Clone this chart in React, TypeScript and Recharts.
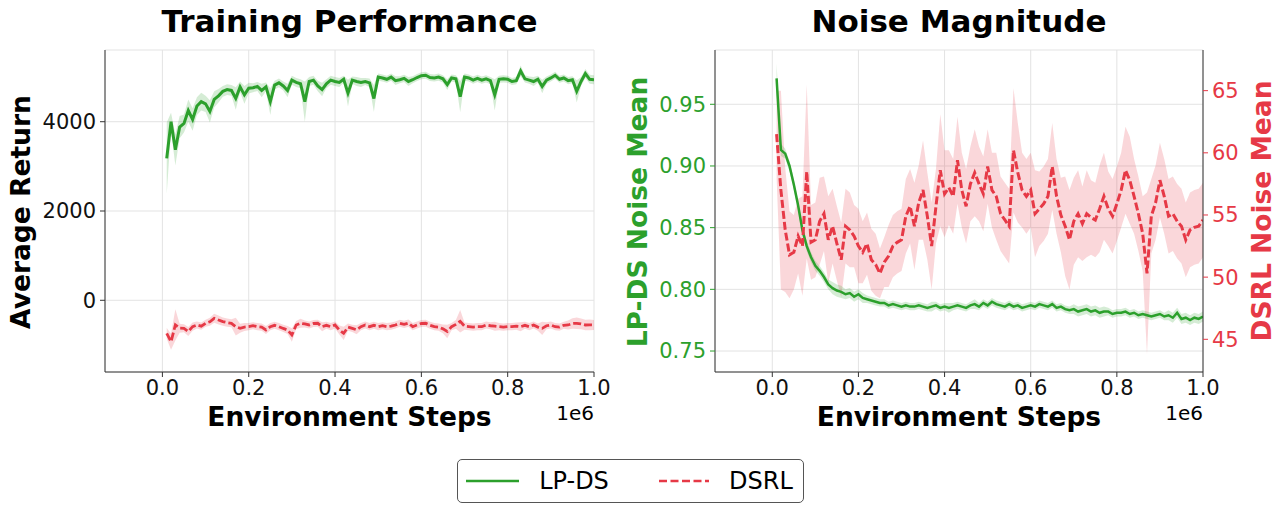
import React from 'react';
import { ComposedChart, Line, Area, XAxis, YAxis, CartesianGrid } from 'recharts';

const FONT = '"DejaVu Sans", "Liberation Sans", sans-serif';
const GREEN = '#2ca02c';
const RED = '#e63946';

const steps = [
  10000, 20000, 30000, 40000, 50000, 60000, 70000, 80000, 90000, 100000,
  110000, 120000, 130000, 140000, 150000, 160000, 170000, 180000, 190000, 200000,
  210000, 220000, 230000, 240000, 250000, 260000, 270000, 280000, 290000, 300000,
  310000, 320000, 330000, 340000, 350000, 360000, 370000, 380000, 390000, 400000,
  410000, 420000, 430000, 440000, 450000, 460000, 470000, 480000, 490000, 500000,
  510000, 520000, 530000, 540000, 550000, 560000, 570000, 580000, 590000, 600000,
  610000, 620000, 630000, 640000, 650000, 660000, 670000, 680000, 690000, 700000,
  710000, 720000, 730000, 740000, 750000, 760000, 770000, 780000, 790000, 800000,
  810000, 820000, 830000, 840000, 850000, 860000, 870000, 880000, 890000, 900000,
  910000, 920000, 930000, 940000, 950000, 960000, 970000, 980000, 990000, 1000000,
];

// Training Performance: LP-DS average return (mean, band half-width)
const lpdsReturn = [
  3180, 4000, 3370, 3880, 3960, 4250, 4050, 4350, 4450, 4400,
  4230, 4500, 4580, 4680, 4720, 4700, 4520, 4780, 4600, 4750,
  4760, 4790, 4700, 4780, 4450, 4820, 4870, 4800, 4700, 4930,
  4880, 4850, 4450, 4900, 4930, 4800, 4720, 4850, 4930, 4900,
  4880, 4950, 4640, 4930, 4900, 4880, 4900, 4870, 4520, 5000,
  4980, 4950, 5000, 4920, 4940, 4970, 4900, 4940, 4990, 5030,
  5040, 4990, 4980, 5000, 4960, 4830, 4980, 4960, 4560, 5000,
  4980, 4930, 4970, 4930, 4960, 4920, 4600, 4950, 4960, 4950,
  4900, 4920, 5140, 4960, 4930, 4900, 4950, 4790, 4930, 4980,
  5040, 4950, 4980, 4920, 4940, 4680, 4900, 5080, 4950, 4940,
];
const lpdsReturnStd = [
  800, 200, 350, 250, 200, 250, 250, 200, 200, 180,
  250, 180, 150, 120, 120, 120, 250, 120, 200, 120,
  100, 100, 150, 100, 300, 100, 100, 100, 150, 100,
  100, 100, 450, 100, 100, 120, 150, 100, 100, 100,
  100, 80, 300, 80, 100, 100, 80, 100, 300, 80,
  80, 80, 80, 100, 80, 80, 100, 80, 80, 80,
  80, 80, 80, 80, 80, 120, 80, 80, 350, 80,
  80, 80, 80, 80, 80, 80, 350, 80, 80, 80,
  80, 80, 120, 80, 80, 100, 80, 150, 80, 80,
  80, 80, 80, 80, 80, 250, 100, 100, 100, 100,
];
// Training Performance: DSRL average return
const dsrlReturn = [
  -740, -930, -550, -625, -628, -700, -590, -553, -580, -515,
  -480, -404, -440, -478, -500, -515, -591, -628, -600, -591,
  -570, -591, -600, -665, -591, -560, -591, -630, -665, -777,
  -553, -515, -530, -553, -520, -515, -591, -560, -591, -553,
  -665, -740, -600, -628, -660, -591, -553, -591, -560, -591,
  -570, -591, -580, -553, -515, -540, -510, -591, -553, -520,
  -515, -560, -591, -600, -640, -700, -591, -540, -470, -580,
  -591, -600, -591, -591, -553, -570, -580, -591, -600, -591,
  -591, -580, -591, -560, -591, -553, -600, -628, -570, -553,
  -591, -600, -560, -553, -520, -515, -530, -553, -550, -553,
];
const dsrlReturnStd = [
  120, 180, 350, 100, 90, 100, 90, 80, 80, 80,
  90, 100, 100, 90, 90, 90, 200, 100, 90, 80,
  80, 80, 80, 90, 80, 80, 80, 80, 90, 150,
  90, 100, 80, 80, 80, 80, 100, 80, 80, 80,
  100, 150, 80, 80, 100, 80, 80, 80, 80, 80,
  80, 80, 80, 80, 80, 80, 80, 80, 80, 80,
  80, 80, 80, 80, 100, 150, 80, 100, 250, 80,
  80, 80, 80, 80, 80, 80, 100, 80, 80, 80,
  80, 80, 100, 80, 80, 80, 80, 150, 80, 80,
  80, 80, 80, 100, 120, 130, 120, 120, 120, 110,
];

// Noise Magnitude: LP-DS noise mean (left axis)
const lpdsNoise = [
  0.971, 0.913, 0.910, 0.900, 0.885, 0.868, 0.848, 0.835, 0.826, 0.819,
  0.815, 0.810, 0.804, 0.801, 0.799, 0.798, 0.796, 0.797, 0.794, 0.796,
  0.793, 0.792, 0.791, 0.790, 0.789, 0.789, 0.787, 0.788, 0.787, 0.786,
  0.787, 0.786, 0.786, 0.787, 0.786, 0.785, 0.786, 0.787, 0.785, 0.786,
  0.785, 0.786, 0.787, 0.786, 0.785, 0.787, 0.788, 0.786, 0.789, 0.787,
  0.790, 0.788, 0.787, 0.786, 0.788, 0.786, 0.787, 0.785, 0.786, 0.787,
  0.786, 0.788, 0.787, 0.786, 0.788, 0.785, 0.786, 0.784, 0.783, 0.784,
  0.782, 0.783, 0.784, 0.782, 0.783, 0.781, 0.782, 0.782, 0.780, 0.781,
  0.781, 0.782, 0.780, 0.781, 0.779, 0.780, 0.779, 0.778, 0.779, 0.780,
  0.778, 0.779, 0.777, 0.781, 0.776, 0.777, 0.775, 0.777, 0.776, 0.778,
];
const lpdsNoiseStd = [
  0.012, 0.005, 0.004, 0.004, 0.004, 0.004, 0.004, 0.004, 0.004, 0.004,
  0.004, 0.004, 0.004, 0.005, 0.005, 0.005, 0.004, 0.004, 0.004, 0.004,
  0.004, 0.003, 0.003, 0.003, 0.003, 0.003, 0.003, 0.003, 0.003, 0.003,
  0.003, 0.003, 0.003, 0.003, 0.003, 0.003, 0.004, 0.003, 0.003, 0.003,
  0.004, 0.003, 0.003, 0.003, 0.003, 0.003, 0.004, 0.003, 0.003, 0.003,
  0.003, 0.003, 0.003, 0.003, 0.003, 0.003, 0.003, 0.003, 0.003, 0.003,
  0.003, 0.003, 0.003, 0.003, 0.003, 0.003, 0.003, 0.003, 0.003, 0.004,
  0.004, 0.004, 0.004, 0.004, 0.004, 0.004, 0.004, 0.003, 0.003, 0.003,
  0.003, 0.003, 0.003, 0.003, 0.003, 0.003, 0.003, 0.003, 0.003, 0.003,
  0.003, 0.004, 0.004, 0.004, 0.004, 0.004, 0.004, 0.004, 0.004, 0.004,
];
// Noise Magnitude: DSRL noise mean (right axis)
const dsrlNoise = [
  61.5, 57.0, 53.8, 51.8, 52.0, 53.3, 52.5, 58.5, 52.8, 53.0,
  54.5, 55.1, 53.0, 54.1, 52.7, 51.4, 54.1, 53.8, 53.3, 52.5,
  52.0, 52.7, 51.4, 51.0, 50.3, 51.2, 51.7, 52.5, 52.8, 53.0,
  54.9, 55.7, 54.1, 56.0, 57.0, 54.9, 52.5, 55.7, 58.6, 56.7,
  57.2, 56.5, 59.4, 57.0, 55.7, 57.5, 58.4, 57.5, 56.7, 58.9,
  57.0, 56.5, 55.1, 54.6, 54.1, 60.2, 58.4, 57.0, 56.5, 57.0,
  55.1, 55.5, 55.9, 56.5, 58.9, 56.5, 55.0, 54.1, 53.0, 54.5,
  55.1, 54.3, 55.1, 54.8, 54.6, 55.5, 56.5, 55.5, 54.9, 55.9,
  57.0, 58.6, 57.8, 56.5, 55.1, 53.5, 50.3, 54.9, 56.0, 57.8,
  56.5, 54.9, 55.1, 54.5, 54.1, 53.0, 53.8, 54.0, 54.1, 54.6,
];
const dsrlNoiseStd = [
  3.5, 8.0, 5.0, 3.5, 3.0, 3.0, 4.0, 7.0, 3.0, 3.0,
  3.5, 3.0, 3.5, 3.0, 3.0, 3.0, 3.0, 3.0, 2.5, 3.0,
  2.5, 2.5, 2.5, 2.5, 2.0, 2.0, 2.5, 2.5, 2.5, 2.5,
  3.0, 3.0, 3.5, 3.0, 4.0, 3.5, 3.5, 3.0, 4.5, 3.5,
  3.0, 3.0, 3.5, 3.0, 3.0, 3.0, 3.5, 3.0, 3.0, 3.0,
  3.0, 3.5, 3.0, 3.0, 3.0, 5.0, 4.0, 3.0, 3.0, 3.0,
  3.5, 3.0, 3.0, 3.0, 3.5, 3.0, 3.0, 4.0, 4.0, 3.5,
  3.5, 3.0, 3.5, 3.0, 3.0, 3.5, 3.5, 3.0, 3.0, 3.0,
  3.0, 3.5, 3.5, 3.0, 3.0, 3.0, 6.5, 3.0, 3.0, 3.0,
  3.0, 3.0, 3.0, 3.0, 3.0, 3.0, 3.0, 3.0, 3.0, 3.0,
];

const xTicks = [0, 200000, 400000, 600000, 800000, 1000000];
const returnTicks = [0, 2000, 4000];
const lpdsNoiseTicks = [0.75, 0.8, 0.85, 0.9, 0.95];
const dsrlNoiseTicks = [45, 50, 55, 60, 65];
const xDomain: [number, number] = [-133000, 1000000];

const leftRows = steps.map((s, i) => ({
  x: s,
  g: lpdsReturn[i],
  gBand: [lpdsReturn[i] - lpdsReturnStd[i], lpdsReturn[i] + lpdsReturnStd[i]],
  r: dsrlReturn[i],
  rBand: [dsrlReturn[i] - dsrlReturnStd[i], dsrlReturn[i] + dsrlReturnStd[i]],
}));
const rightRows = steps.map((s, i) => ({
  x: s,
  g: lpdsNoise[i],
  gBand: [lpdsNoise[i] - lpdsNoiseStd[i], lpdsNoise[i] + lpdsNoiseStd[i]],
  r: dsrlNoise[i],
  rBand: [dsrlNoise[i] - dsrlNoiseStd[i], dsrlNoise[i] + dsrlNoiseStd[i]],
}));

const tickStyle = { fontSize: 21, fill: '#111', fontFamily: FONT };
const AX = '#333';

function Txt(props: { x: number; y: number; size: number; bold?: boolean; color?: string; rotate?: number; children: React.ReactNode; anchor?: 'center' | 'right' }) {
  const { x, y, size, bold, color, rotate, children, anchor } = props;
  const tx = anchor === 'right' ? '-100%' : '-50%';
  return (
    <div
      style={{
        position: 'absolute',
        left: x,
        top: y,
        transform: `translate(${tx}, -50%)${rotate ? ` rotate(${rotate}deg)` : ''}`,
        fontFamily: FONT,
        fontSize: size,
        fontWeight: bold ? 'bold' : 'normal',
        color: color || '#000',
        whiteSpace: 'nowrap',
        lineHeight: 1,
      }}
    >
      {children}
    </div>
  );
}

function LeftChart() {
  return (
    <ComposedChart width={640} height={512} data={leftRows} margin={{ top: 50, right: 46, bottom: 100, left: 0 }}>
      <CartesianGrid stroke="#e3e3e3" strokeWidth={1} />
      <XAxis dataKey="x" type="number" domain={xDomain} ticks={xTicks} allowDataOverflow
        tickFormatter={(v: number) => (v / 1e6).toFixed(1)} height={40} tick={tickStyle}
        stroke={AX} tickSize={5} tickMargin={3} />
      <XAxis xAxisId="top" orientation="top" dataKey="x" type="number" domain={xDomain} allowDataOverflow
        tick={false} tickLine={false} height={0} stroke={AX} />
      <YAxis type="number" domain={[-1606, 5606]} ticks={returnTicks} allowDataOverflow width={105}
        tick={tickStyle} stroke={AX} tickSize={5} tickMargin={4} />
      <YAxis yAxisId="edge" orientation="right" type="number" domain={[-1606, 5606]} allowDataOverflow
        tick={false} tickLine={false} width={0} stroke={AX} />
      <Area dataKey="gBand" stroke="none" fill={GREEN} fillOpacity={0.2} isAnimationActive={false} dot={false} activeDot={false} />
      <Area dataKey="rBand" stroke="none" fill={RED} fillOpacity={0.2} isAnimationActive={false} dot={false} activeDot={false} />
      <Line dataKey="g" stroke={GREEN} strokeWidth={3} dot={false} isAnimationActive={false} />
      <Line dataKey="r" stroke={RED} strokeWidth={2.8} strokeDasharray="8 3" dot={false} isAnimationActive={false} />
    </ComposedChart>
  );
}

function RightChart() {
  return (
    <ComposedChart width={640} height={512} data={rightRows} margin={{ top: 50, right: 0, bottom: 100, left: 0 }}>
      <CartesianGrid stroke="#e3e3e3" strokeWidth={1} yAxisId="l" />
      <XAxis dataKey="x" type="number" domain={xDomain} ticks={xTicks} allowDataOverflow
        tickFormatter={(v: number) => (v / 1e6).toFixed(1)} height={40} tick={tickStyle}
        stroke={AX} tickSize={5} tickMargin={3} />
      <XAxis xAxisId="top" orientation="top" dataKey="x" type="number" domain={xDomain} allowDataOverflow
        tick={false} tickLine={false} height={0} stroke={AX} />
      <YAxis yAxisId="l" type="number" domain={[0.733, 0.994]} ticks={lpdsNoiseTicks} allowDataOverflow width={75}
        tickFormatter={(v: number) => v.toFixed(2)}
        tick={{ ...tickStyle, fill: GREEN }} stroke={AX} tickLine={{ stroke: GREEN }} tickSize={5} tickMargin={4} />
      <YAxis yAxisId="r" orientation="right" type="number" domain={[42.37, 68.27]} ticks={dsrlNoiseTicks} allowDataOverflow width={77}
        tick={{ ...tickStyle, fill: RED }} stroke={AX} tickLine={{ stroke: RED }} tickSize={5} tickMargin={4} />
      <Area yAxisId="r" dataKey="rBand" stroke="none" fill={RED} fillOpacity={0.2} isAnimationActive={false} dot={false} activeDot={false} />
      <Area yAxisId="l" dataKey="gBand" stroke="none" fill={GREEN} fillOpacity={0.2} isAnimationActive={false} dot={false} activeDot={false} />
      <Line yAxisId="l" dataKey="g" stroke={GREEN} strokeWidth={2.5} dot={false} isAnimationActive={false} />
      <Line yAxisId="r" dataKey="r" stroke={RED} strokeWidth={3} strokeDasharray="8 3" dot={false} isAnimationActive={false} />
    </ComposedChart>
  );
}

export default function App() {
  return (
    <div style={{ position: 'absolute', left: 0, top: 0, width: 1280, height: 512, background: '#fff', overflow: 'hidden' }}>
      <div style={{ position: 'absolute', left: 0, top: 0 }}><LeftChart /></div>
      <div style={{ position: 'absolute', left: 640, top: 0 }}><RightChart /></div>

      <Txt x={349.5} y={21} size={31} bold>Training Performance</Txt>
      <Txt x={959} y={21} size={31} bold>Noise Magnitude</Txt>

      <Txt x={21} y={212} size={26.5} bold rotate={-90}>Average Return</Txt>
      <Txt x={638} y={212} size={26.5} bold rotate={-90} color={GREEN}>LP-DS Noise Mean</Txt>
      <Txt x={1262} y={211} size={26.5} bold rotate={-90} color={RED}>DSRL Noise Mean</Txt>

      <Txt x={349.5} y={417} size={26.5} bold>Environment Steps</Txt>
      <Txt x={959} y={417} size={26.5} bold>Environment Steps</Txt>
      <Txt x={594} y={413} size={20} anchor="right">1e6</Txt>
      <Txt x={1203} y={413} size={20} anchor="right">1e6</Txt>

      <div style={{ position: 'absolute', left: 457, top: 459, width: 345, height: 42, border: '1.5px solid #555', borderRadius: 5, background: '#fff' }}>
        <svg width={345} height={42} style={{ position: 'absolute', left: 0, top: 0 }}>
          <line x1={8} x2={61} y1={21} y2={21} stroke={GREEN} strokeWidth={2.6} />
          <line x1={201} x2={251} y1={21} y2={21} stroke={RED} strokeWidth={2.6} strokeDasharray="8 3.5" />
        </svg>
        <Txt x={116} y={21} size={24}>LP-DS</Txt>
        <Txt x={303} y={21} size={24}>DSRL</Txt>
      </div>
    </div>
  );
}
